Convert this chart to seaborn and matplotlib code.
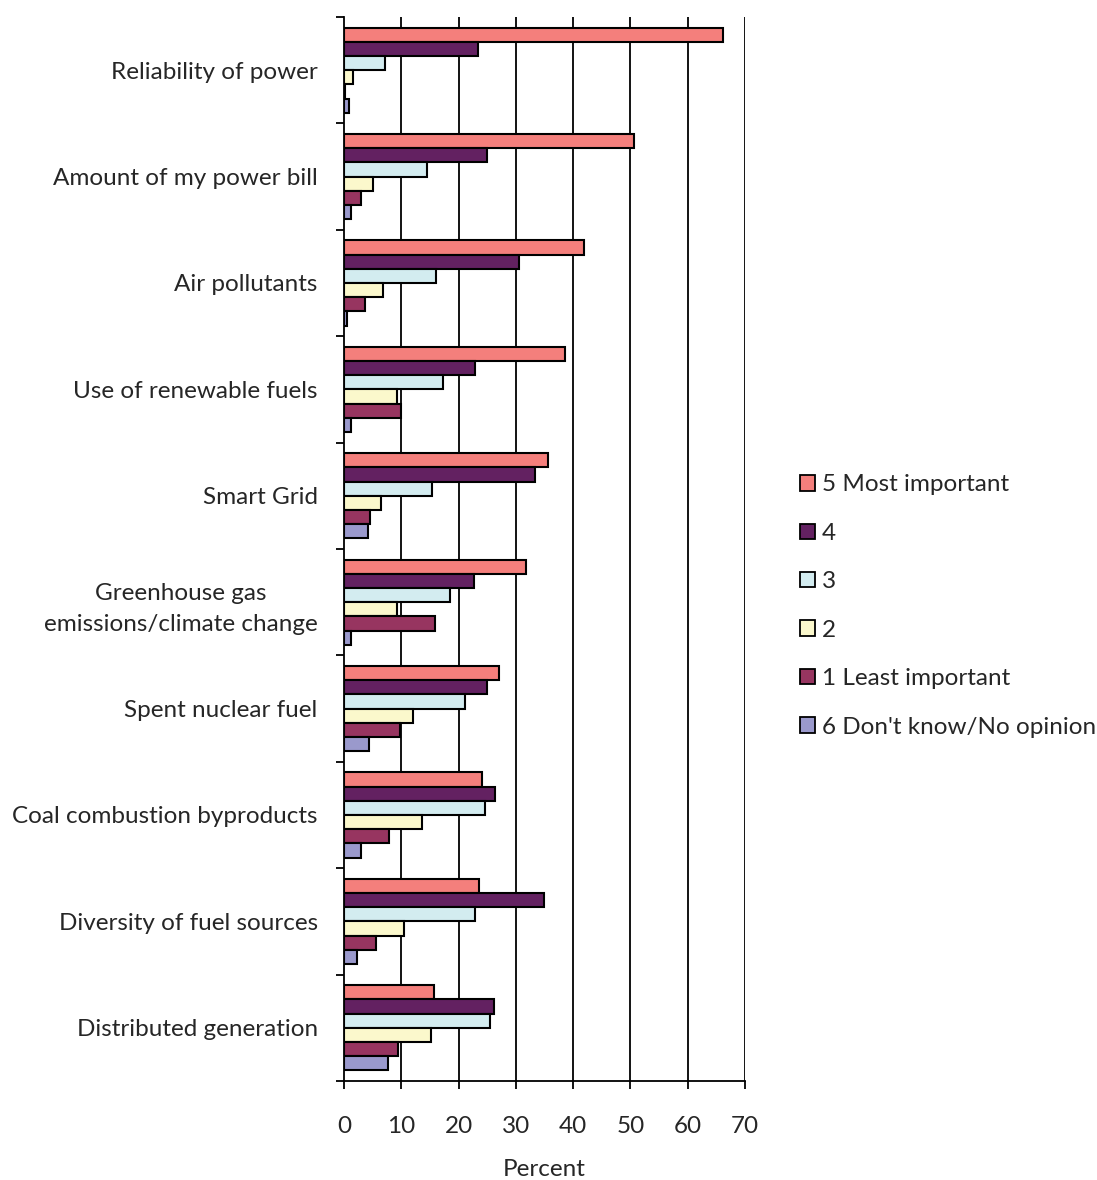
import matplotlib
matplotlib.use("Agg")
import matplotlib.pyplot as plt
import seaborn as sns
import pandas as pd
from matplotlib.patches import Patch

categories = ["Reliability of power", "Amount of my power bill", "Air pollutants",
              "Use of renewable fuels", "Smart Grid",
              "Greenhouse gas\nemissions/climate change", "Spent nuclear fuel",
              "Coal combustion byproducts", "Diversity of fuel sources",
              "Distributed generation"]
series = ["5 Most important", "4", "3", "2", "1 Least important", "6 Don't know/No opinion"]
most5 = [66.2, 50.6, 41.9, 38.6, 35.6, 31.8, 27.1, 24.1, 23.6, 15.7]
imp4 = [23.4, 24.9, 30.6, 22.9, 33.4, 22.7, 25.0, 26.4, 35.0, 26.2]
imp3 = [7.2, 14.5, 16.0, 17.3, 15.4, 18.5, 21.2, 24.6, 22.9, 25.4]
imp2 = [1.6, 5.1, 6.8, 9.3, 6.5, 9.2, 12.1, 13.6, 10.4, 15.2]
least1 = [0.1, 2.9, 3.6, 10.0, 4.5, 15.9, 9.8, 7.9, 5.5, 9.5]
dontknow6 = [0.9, 1.3, 0.6, 1.3, 4.2, 1.3, 4.3, 2.9, 2.3, 7.7]
colors = ["#F47F7C", "#632161", "#D3ECF0", "#FBF8CC", "#973560", "#9A99CC"]
xticks = [0, 10, 20, 30, 40, 50, 60, 70]

values = [most5, imp4, imp3, imp2, least1, dontknow6]
rows = []
for s, vals in zip(series, values):
    for c, v in zip(categories, vals):
        rows.append({"Category": c, "Series": s, "Percent": v})
df = pd.DataFrame(rows)

sns.set_theme(style="white")
plt.rcParams["font.family"] = ["Lato", "DejaVu Sans"]
FS = 17.5

fig = plt.figure(figsize=(10.97, 11.8), dpi=100)
ax = fig.add_axes([0.3136, 0.0839, 0.3655, 0.9017])

sns.barplot(data=df, y="Category", x="Percent", hue="Series", order=categories,
            hue_order=series, palette=colors, orient="h", width=0.8, saturation=1,
            edgecolor="black", linewidth=1.5, ax=ax, legend=False, errorbar=None)

ax.set_xlim(0, 70)
ax.set_ylim(len(categories) - 0.5, -0.5)
ax.set_xticks(xticks)
ax.set_xticklabels([str(t) for t in xticks], fontsize=FS)
for t in xticks[1:]:
    ax.axvline(t, color="black", lw=1.3, zorder=0)

ax.set_yticks(range(len(categories)))
ax.set_yticklabels(categories, fontsize=FS, multialignment="center", linespacing=1.6)
ax.tick_params(axis="y", which="major", length=0, pad=19)
ax.set_yticks([i - 0.5 for i in range(len(categories) + 1)], minor=True)
ax.tick_params(axis="y", which="minor", length=6, width=1.3, color="black", direction="out", left=True)
ax.tick_params(axis="x", which="major", length=6, width=1.3, color="black", direction="out", bottom=True, pad=19)

ax.set_ylabel("")
ax.set_xlabel("Percent", fontsize=FS, labelpad=16)

for side in ["top", "right"]:
    ax.spines[side].set_visible(False)
for side in ["left", "bottom"]:
    ax.spines[side].set_color("black")
    ax.spines[side].set_linewidth(1.3)

handles = [Patch(facecolor=c, edgecolor="black", linewidth=1.3) for c in colors]
fig.legend(handles, series, loc="center left", bbox_to_anchor=(0.7205, 0.4864),
           frameon=False, fontsize=FS, handlelength=0.6, handleheight=0.6,
           handletextpad=0.3, labelspacing=1.13, borderaxespad=0)

fig.savefig("out.png", dpi=100)
